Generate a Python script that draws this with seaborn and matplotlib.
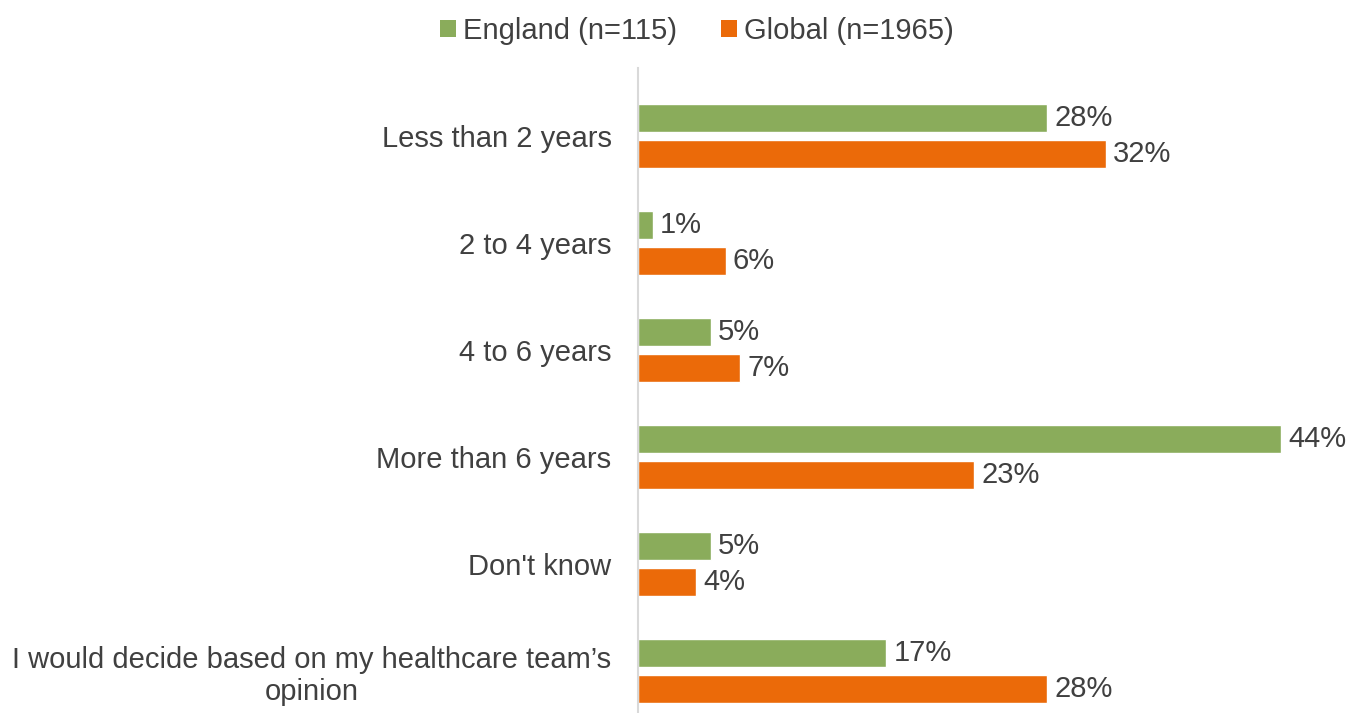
import matplotlib
matplotlib.use("Agg")
import matplotlib.pyplot as plt
import seaborn as sns
import pandas as pd
from matplotlib.patches import Patch

categories = [
    "Less than 2 years",
    "2 to 4 years",
    "4 to 6 years",
    "More than 6 years",
    "Don't know",
    "I would decide based on my healthcare team\u2019s\nopinion",
]
england = [28, 1, 5, 44, 5, 17]
global_vals = [32, 6, 7, 23, 4, 28]
series_names = ["England (n=115)", "Global (n=1965)"]
colors = ["#8AAC5B", "#EB6A09"]

df = pd.DataFrame({
    "category": categories * 2,
    "value": england + global_vals,
    "series": [series_names[0]] * len(categories) + [series_names[1]] * len(categories),
})

sns.set_theme(style="white")
plt.rcParams["font.family"] = ["Liberation Sans", "DejaVu Sans"]
text_color = "#404040"
fs = 21

fig = plt.figure(figsize=(13.64, 7.13), dpi=100)
W, H = 1364, 713
ax = fig.add_axes([638 / W, 0, (1364 - 638) / W, (713 - 68) / H])

sns.barplot(
    data=df, x="value", y="category", hue="series", order=categories,
    hue_order=series_names, palette=colors, orient="h",
    width=0.672, gap=0.22, saturation=1, legend=False, ax=ax,
)

# x scale: 44% reaches ~1281 px
px_per_pct = (1281 - 638) / 44
ax.set_xlim(0, (1364 - 638) / px_per_pct)
ax.set_ylim(5.39, -0.635)

for container in ax.containers:
    ax.bar_label(container, labels=[f"{v:.0f}%" for v in container.datavalues],
                 padding=5, fontsize=fs, color=text_color)

ax.set_xlabel("")
ax.set_ylabel("")
ax.set_xticks([])
ax.tick_params(axis="y", length=0, pad=19, labelsize=fs, labelcolor=text_color)
for lbl in ax.get_yticklabels():
    lbl.set_horizontalalignment("right")
    lbl.set_multialignment("center")
    lbl.set_linespacing(1.15)

for side in ["top", "right", "bottom"]:
    ax.spines[side].set_visible(False)
ax.spines["left"].set_color("#D9D9D9")
ax.spines["left"].set_linewidth(1.5)

handles = [Patch(facecolor=c, edgecolor="none") for c in colors]
fig.legend(handles, series_names, loc="center", bbox_to_anchor=(0.511, 1 - 31 / H),
           ncol=2, frameon=False, fontsize=fs, handlelength=0.55, handleheight=0.55,
           handletextpad=0.25, columnspacing=1.5, labelcolor=text_color)

fig.savefig("out.png", dpi=100)
